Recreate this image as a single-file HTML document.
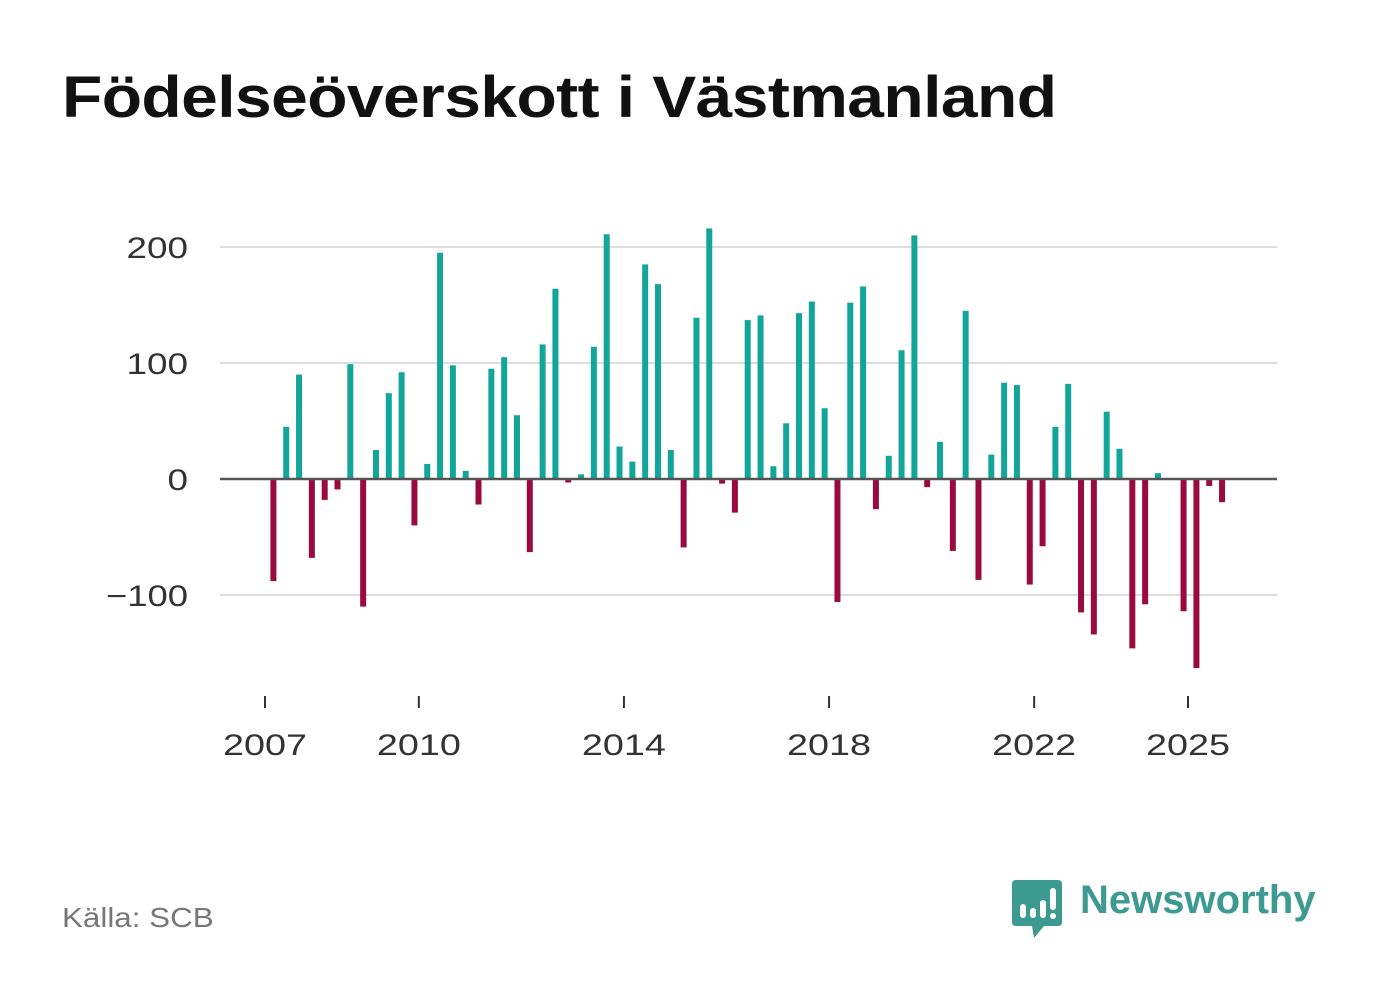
<!DOCTYPE html>
<html><head><meta charset="utf-8">
<style>
body{margin:0;background:#fff;font-family:"Liberation Sans",sans-serif;}
#wrap{position:relative;width:1382px;height:999px;overflow:hidden;}
h1{position:absolute;left:62px;top:64px;margin:0;font-size:58px;font-weight:bold;color:#111;letter-spacing:-0.5px;transform:scaleX(1.137);transform-origin:0 0;white-space:nowrap;}
#src{position:absolute;left:62px;top:902px;font-size:28px;color:#777;transform:scaleX(1.12);transform-origin:0 0;}
#brand{position:absolute;left:1080px;top:878px;font-size:40px;font-weight:bold;color:#3d9a90;}
</style></head><body>
<div id="wrap">
<h1>Födelseöverskott i Västmanland</h1>
<svg id="chart" width="1382" height="999" style="position:absolute;left:0;top:0"></svg>
<div id="src">Källa: SCB</div>
<svg style="position:absolute;left:1012px;top:880px" width="52" height="60">
<path d="M4 0 H46 Q50 0 50 4 V42 Q50 46 46 46 H32 L22 58 L20 46 H4 Q0 46 0 42 V4 Q0 0 4 0Z" fill="#3d9a90"/>
<rect x="8" y="24" width="6" height="14" rx="3" fill="#fff"/><rect x="18" y="28" width="6" height="10" rx="3" fill="#fff"/>
<rect x="28" y="20" width="6" height="18" rx="3" fill="#fff"/><rect x="38" y="8" width="6" height="22" rx="3" fill="#fff"/><circle cx="41" cy="36" r="3" fill="#fff"/>
</svg>
<div id="brand">Newsworthy</div>
</div>
<script>
const startYear = 2007;
const values = [-88,45,90,-68, -18,-9,99,-110, 25,74,92,-40, 13,195,98,7, -22,95,105,55, -63,116,164,-3, 4,114,211,28, 15,185,168,25, -59,139,216,-4, -29,137,141,11, 48,143,153,61, -106,152,166,-26, 20,111,210,-7, 32,-62,145,-87, 21,83,81,-91, -58,45,82,-115, -134,58,26,-146, -108,5,0,-114, -163,-6,-20];
const yTicks = [-100,0,100,200];
const xTickYears = [2007,2010,2014,2018,2022,2025];
const svg = document.getElementById('chart');
const NS = 'http://www.w3.org/2000/svg';
const x0 = 265, perYear = (1188-265)/18;
const xScale = t => x0 + (t - startYear) * perYear;
const yScale = v => 479 - v * 1.16;
function mk(tag, attrs){const e=document.createElementNS(NS,tag);for(const k in attrs)e.setAttribute(k,attrs[k]);svg.appendChild(e);return e;}
yTicks.forEach(v=>{
  if(v!==0){const g=mk('line',{x1:220,x2:1277,y1:yScale(v),y2:yScale(v),stroke:'#ddd','stroke-width':2});
  
  }
  const label=v<0?'\u2212'+Math.abs(v):String(v);
  const t=mk('text',{x:188,y:yScale(v)+11,'text-anchor':'end','font-size':30,fill:'#333','font-family':'Liberation Sans, sans-serif',textLength:label.length*20.5,lengthAdjust:'spacingAndGlyphs'});
  t.textContent=label;
  
  
});
values.forEach((v,i)=>{
  const cx = xScale(startYear + (i+0.5)/4) + 2;
  const y = Math.min(yScale(v), yScale(0)), h = Math.abs(yScale(v)-yScale(0));
  const r = mk('rect',{x:cx-3,y:y,width:6,height:h,fill:v>=0?'#12a59a':'#9b0a3f'});
  
  
});
const zl = mk('line',{x1:220,x2:1277,y1:yScale(0),y2:yScale(0),stroke:'#555','stroke-width':2.5});


xTickYears.forEach(yr=>{
  const x=xScale(yr);
  const l=mk('line',{x1:x,x2:x,y1:696,y2:708,stroke:'#333','stroke-width':2});
  
  
  const t=mk('text',{x:x,y:755,'text-anchor':'middle','font-size':30,fill:'#333','font-family':'Liberation Sans, sans-serif',textLength:84,lengthAdjust:'spacingAndGlyphs'});
  t.textContent=yr;
  
  
});
</script>
</body></html>
